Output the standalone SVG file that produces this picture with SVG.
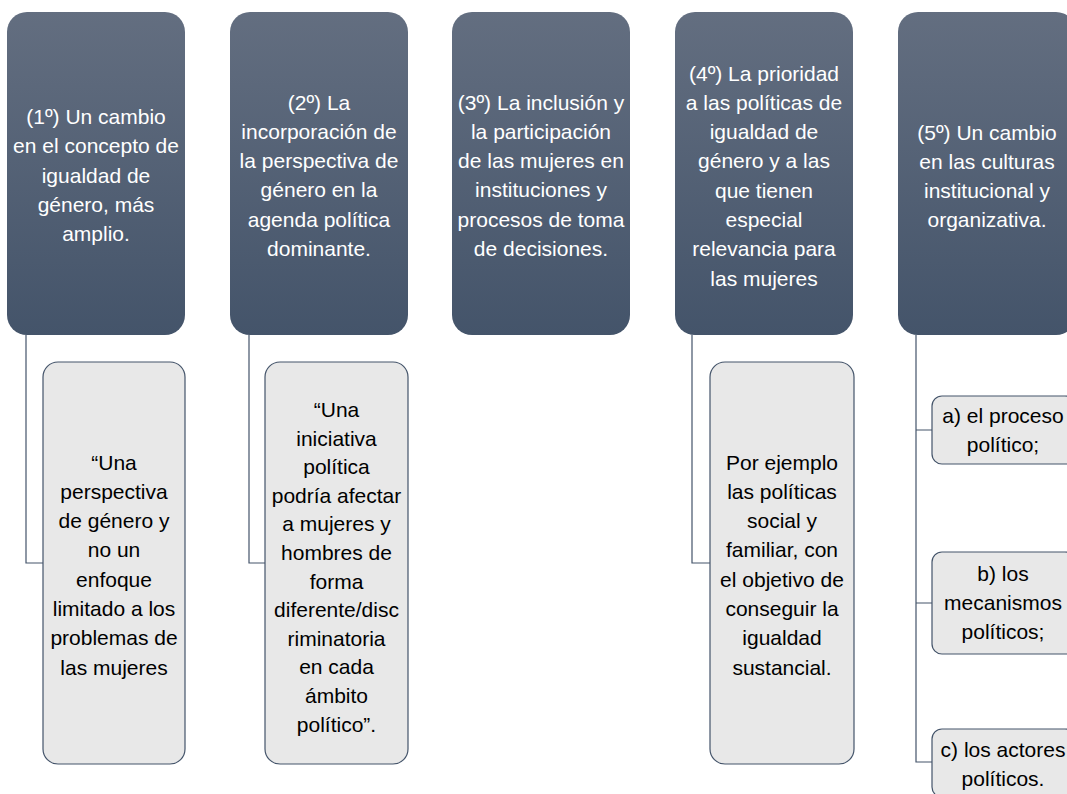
<svg xmlns="http://www.w3.org/2000/svg" width="1067" height="794" viewBox="0 0 1067 794">
  <defs>
    <linearGradient id="hg" x1="0" y1="0" x2="0" y2="1">
      <stop offset="0" stop-color="#636e80"/>
      <stop offset="1" stop-color="#44546a"/>
    </linearGradient>
    <style>
      .hdr { fill: url(#hg); }
      .child { fill: #e8e8e8; stroke: #44546a; stroke-width: 1.2; }
      .conn { fill: none; stroke: #44546a; stroke-width: 1.2; }
      text { font-family: "Liberation Sans", Arial, sans-serif; font-size: 21px; text-anchor: middle; }
      .ht { fill: #ffffff; }
      .ct { fill: #000000; }
    </style>
  </defs>
  <rect width="1067" height="794" fill="#ffffff"/>

  <g id="connectors">
    <path class="conn" d="M26 335 V563 H43"/>
    <path class="conn" d="M249 335 V563 H265"/>
    <path class="conn" d="M692 335 V563 H710"/>
    <path class="conn" d="M916 335 V762 H932 M916 430 H932 M916 603 H932"/>
  </g>

  <g id="header1">
    <rect class="hdr" x="7" y="12" width="178" height="323" rx="20"/>
    <text class="ht" x="96" y="124">(1º) Un cambio<tspan x="96" dy="29.3">en el concepto de</tspan><tspan x="96" dy="29.3">igualdad de</tspan><tspan x="96" dy="29.3">género, más</tspan><tspan x="96" dy="29.3">amplio.</tspan></text>
  </g>

  <g id="header2">
    <rect class="hdr" x="230" y="12" width="178" height="323" rx="20"/>
    <text class="ht" x="319" y="109.5">(2º) La<tspan x="319" dy="29.3">incorporación de</tspan><tspan x="319" dy="29.3">la perspectiva de</tspan><tspan x="319" dy="29.3">género en la</tspan><tspan x="319" dy="29.3">agenda política</tspan><tspan x="319" dy="29.3">dominante.</tspan></text>
  </g>

  <g id="header3">
    <rect class="hdr" x="452" y="12" width="178" height="323" rx="20"/>
    <text class="ht" x="541" y="109.5">(3º) La inclusión y<tspan x="541" dy="29.3">la participación</tspan><tspan x="541" dy="29.3">de las mujeres en</tspan><tspan x="541" dy="29.3">instituciones y</tspan><tspan x="541" dy="29.3">procesos de toma</tspan><tspan x="541" dy="29.3">de decisiones.</tspan></text>
  </g>

  <g id="header4">
    <rect class="hdr" x="675" y="12" width="178" height="323" rx="20"/>
    <text class="ht" x="764" y="80.5">(4º) La prioridad<tspan x="764" dy="29.3">a las políticas de</tspan><tspan x="764" dy="29.3">igualdad de</tspan><tspan x="764" dy="29.3">género y a las</tspan><tspan x="764" dy="29.3">que tienen</tspan><tspan x="764" dy="29.3">especial</tspan><tspan x="764" dy="29.3">relevancia para</tspan><tspan x="764" dy="29.3">las mujeres</tspan></text>
  </g>

  <g id="header5">
    <rect class="hdr" x="898" y="12" width="178" height="323" rx="20"/>
    <text class="ht" x="987" y="139.5">(5º) Un cambio<tspan x="987" dy="29.3">en las culturas</tspan><tspan x="987" dy="29.3">institucional y</tspan><tspan x="987" dy="29.3">organizativa.</tspan></text>
  </g>

  <g id="child1">
    <rect class="child" x="43" y="362" width="142" height="402" rx="15"/>
    <text class="ct" x="114" y="469.5">“Una<tspan x="114" dy="29.3">perspectiva</tspan><tspan x="114" dy="29.3">de género y</tspan><tspan x="114" dy="29.3">no un</tspan><tspan x="114" dy="29.3">enfoque</tspan><tspan x="114" dy="29.3">limitado a los</tspan><tspan x="114" dy="29.3">problemas de</tspan><tspan x="114" dy="29.3">las mujeres</tspan></text>
  </g>

  <g id="child2">
    <rect class="child" x="265" y="362" width="143" height="402" rx="15"/>
    <text class="ct" x="336.5" y="417">“Una<tspan x="336.5" dy="28.6">iniciativa</tspan><tspan x="336.5" dy="28.6">política</tspan><tspan x="336.5" dy="28.6">podría afectar</tspan><tspan x="336.5" dy="28.6">a mujeres y</tspan><tspan x="336.5" dy="28.6">hombres de</tspan><tspan x="336.5" dy="28.6">forma</tspan><tspan x="336.5" dy="28.6">diferente/disc</tspan><tspan x="336.5" dy="28.6">riminatoria</tspan><tspan x="336.5" dy="28.6">en cada</tspan><tspan x="336.5" dy="28.6">ámbito</tspan><tspan x="336.5" dy="28.6">político”.</tspan></text>
  </g>

  <g id="child4">
    <rect class="child" x="710" y="362" width="144" height="402" rx="15"/>
    <text class="ct" x="782" y="469.5">Por ejemplo<tspan x="782" dy="29.3">las políticas</tspan><tspan x="782" dy="29.3">social y</tspan><tspan x="782" dy="29.3">familiar, con</tspan><tspan x="782" dy="29.3">el objetivo de</tspan><tspan x="782" dy="29.3">conseguir la</tspan><tspan x="782" dy="29.3">igualdad</tspan><tspan x="782" dy="29.3">sustancial.</tspan></text>
  </g>

  <g id="child5a">
    <rect class="child" x="932" y="396" width="143" height="68" rx="10"/>
    <text class="ct" x="1003" y="422.5">a) el proceso<tspan x="1003" dy="29">político;</tspan></text>
  </g>

  <g id="child5b">
    <rect class="child" x="932" y="552" width="143" height="102" rx="10"/>
    <text class="ct" x="1003" y="581">b) los<tspan x="1003" dy="29">mecanismos</tspan><tspan x="1003" dy="29">políticos;</tspan></text>
  </g>

  <g id="child5c">
    <rect class="child" x="932" y="729" width="143" height="68" rx="10"/>
    <text class="ct" x="1003" y="757">c) los actores<tspan x="1003" dy="29">políticos.</tspan></text>
  </g>
</svg>
